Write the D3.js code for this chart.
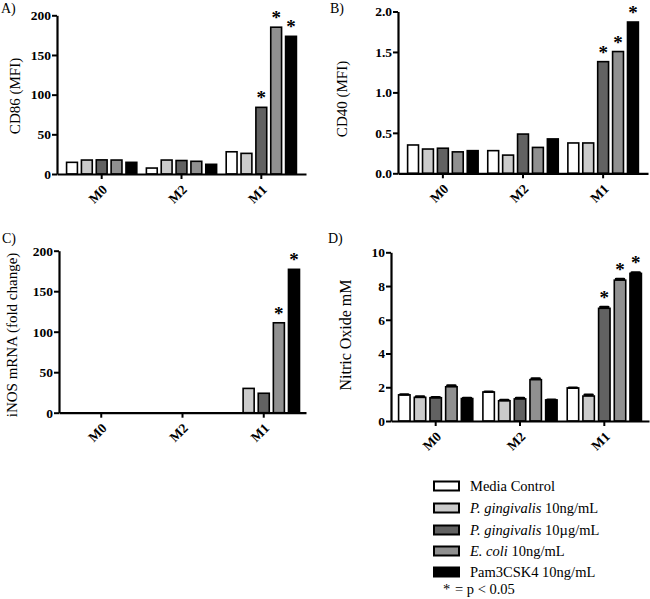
<!DOCTYPE html>
<html>
<head>
<meta charset="utf-8">
<script src="https://cdn.jsdelivr.net/npm/d3@7"></script>
<style>
html,body{margin:0;padding:0;background:#fff;}
svg{display:block;}
text{font-family:"Liberation Serif","Times New Roman",serif;}
</style>
</head>
<body>
<svg id="chart" width="650" height="599"></svg>
<script>
// ---- data ----
const categories = ["M0", "M2", "M1"];
const seriesNames = ["Media Control", "P. gingivalis 10ng/mL", "P. gingivalis 10µg/mL", "E. coli 10ng/mL", "Pam3CSK4 10ng/mL"];
const seriesColors = ["#ffffff", "#cbcbcb", "#626262", "#909090", "#000000"];

// rows = categories (M0, M2, M1), columns = series
const cd86Values = [[14.7, 17.6, 17.8, 17.6, 14.7], [7.5, 17.6, 17, 16, 12.2], [28, 26, 84, 185, 173.5]];
const cd86Sig = [[0,0,0,0,0],[0,0,0,0,0],[0,0,1,1,1]];
const cd40Values = [[0.35, 0.30, 0.31, 0.265, 0.28], [0.28, 0.225, 0.485, 0.32, 0.425], [0.375, 0.375, 1.38, 1.505, 1.87]];
const cd40Sig = [[0,0,0,0,0],[0,0,0,0,0],[0,0,1,1,1]];
const inosValues = [[0, 0, 0, 0, 0], [0, 0, 0, 0, 0], [0, 30, 24, 111, 177]];
const inosSig = [[0,0,0,0,0],[0,0,0,0,0],[0,0,0,1,1]];
const noValues = [[1.55, 1.40, 1.38, 2.03, 1.33], [1.72, 1.20, 1.31, 2.45, 1.25], [1.96, 1.48, 6.68, 8.35, 8.75]];
const noErr = [[0.03, 0.06, 0.04, 0.09, 0.05], [0.03, 0.06, 0.07, 0.09, 0.03], [0.03, 0.09, 0.09, 0.08, 0.07]];
const noSig = [[0,0,0,0,0],[0,0,0,0,0],[0,0,1,1,1]];

const cd86Ticks = [0, 50, 100, 150, 200];
const cd40Ticks = [0, 0.5, 1.0, 1.5, 2.0];
const inosTicks = [0, 50, 100, 150, 200];
const noTicks = [0, 2, 4, 6, 8, 10];

const svg = d3.select("#chart");

function panel(opt) {
  const g = svg.append("g");
  const y = d3.scaleLinear().domain(opt.domain).range([opt.y0, opt.y1]);
  const xg = d3.scaleBand().domain(categories).range([opt.x0, opt.x1]).paddingInner(0).paddingOuter(opt.po);
  const half = xg.bandwidth() * 0.44;
  const xs = d3.scaleBand().domain(d3.range(seriesNames.length)).range([-half, half]).paddingInner(0.27).paddingOuter(0);

  // bars
  categories.forEach((c, ci) => {
    const cx = xg(c) + xg.bandwidth() / 2;
    opt.values[ci].forEach((v, si) => {
      if (v <= 0) return;
      g.append("rect")
        .attr("x", cx + xs(si))
        .attr("y", y(v))
        .attr("width", xs.bandwidth())
        .attr("height", y(0) - y(v))
        .attr("fill", seriesColors[si])
        .attr("stroke", "#000")
        .attr("stroke-width", 1.6);
      let top = y(v);
      if (opt.err) {
        const e = opt.err[ci][si];
        const bx = cx + xs(si) + xs.bandwidth() / 2;
        g.append("line").attr("x1", bx).attr("x2", bx).attr("y1", y(v + e)).attr("y2", y(v))
          .attr("stroke", "#000").attr("stroke-width", 2);
        g.append("rect")
          .attr("x", cx + xs(si) + 0.5).attr("width", xs.bandwidth() - 1)
          .attr("y", y(v + e) - 1).attr("height", Math.max(2.5, y(v) - y(v + e) + 1))
          .attr("rx", 1.5).attr("fill", "#000");
        top = y(v + e);
      }
      if (opt.sig[ci][si]) {
        g.append("text")
          .attr("x", cx + xs(si) + xs.bandwidth() / 2)
          .attr("y", top - 3)
          .attr("text-anchor", "middle")
          .style("font-size", "19px")
          .style("font-weight", "bold")
          .text("*");
      }
    });
  });

  // y axis
  const ya = g.append("g").attr("transform", `translate(${opt.x0},0)`)
    .call(d3.axisLeft(y).tickValues(opt.ticks).tickFormat(opt.fmt).tickSize(5).tickSizeOuter(0));
  // x axis
  const xa = g.append("g").attr("transform", `translate(0,${opt.y0})`)
    .call(d3.axisBottom(xg).tickSize(5).tickSizeOuter(0));
  [ya, xa].forEach(a => {
    a.select(".domain").attr("stroke-width", 2.2);
    a.selectAll(".tick line").attr("stroke-width", 2);
  });
  ya.selectAll("text").style("font-size", "13.5px").style("font-weight", "bold")
    .style("font-family", '"Liberation Serif","Times New Roman",serif').attr("x", -6);
  xa.selectAll("text").remove();
  categories.forEach(c => {
    const cx = xg(c) + xg.bandwidth() / 2;
    g.append("text")
      .attr("transform", `translate(${cx + 3},${opt.y0 + 13}) rotate(-45)`)
      .attr("text-anchor", "end")
      .attr("dy", "0.35em")
      .style("font-size", "13.5px")
      .style("font-weight", "bold")
      .text(c);
  });
  // y label
  g.append("text")
    .attr("transform", `translate(${opt.lx},${opt.ly}) rotate(-90)`)
    .attr("text-anchor", "middle")
    .attr("dy", "0.35em")
    .style("font-size", opt.lsize)
    .text(opt.label);
  // panel letter
  g.append("text").attr("x", opt.px).attr("y", opt.py)
    .style("font-size", "14px").text(opt.letter);
}

panel({letter: "A)", px: 1, py: 13, label: "CD86 (MFI)", lx: 15, ly: 96, lsize: "15px",
  x0: 57, x1: 306, y0: 174, y1: 15.3, domain: [0, 200], ticks: cd86Ticks, fmt: d3.format("d"), po: 0.06,
  values: cd86Values, sig: cd86Sig});
panel({letter: "B)", px: 330, py: 13, label: "CD40 (MFI)", lx: 342, ly: 99, lsize: "15px",
  x0: 398, x1: 648, y0: 173.3, y1: 11.5, domain: [0, 2], ticks: cd40Ticks, fmt: d3.format(".1f"), po: 0.06,
  values: cd40Values, sig: cd40Sig});
panel({letter: "C)", px: 2, py: 243, label: "iNOS mRNA (fold change)", lx: 12, ly: 335, lsize: "15px",
  x0: 59, x1: 306, y0: 412.7, y1: 250.7, domain: [0, 200], ticks: inosTicks, fmt: d3.format("d"), po: 0.02,
  values: inosValues, sig: inosSig});
panel({letter: "D)", px: 328, py: 243, label: "Nitric Oxide mM", lx: 345, ly: 335, lsize: "16px",
  x0: 391, x1: 649, y0: 421, y1: 252.3, domain: [0, 10], ticks: noTicks, fmt: d3.format("d"), po: 0.03,
  values: noValues, err: noErr, sig: noSig});

// legend
const leg = svg.append("g");
const legY = [486, 508, 530, 551, 572];
seriesNames.forEach((s, i) => {
  leg.append("rect").attr("x", 434).attr("y", legY[i] - 4.5).attr("width", 25).attr("height", 9)
    .attr("fill", seriesColors[i]).attr("stroke", "#000").attr("stroke-width", 2);
  const t = leg.append("text").attr("x", 470).attr("y", legY[i]).attr("dy", "0.35em").style("font-size", "14.5px");
  const m = s.match(/^(P\. gingivalis|E\. coli)(.*)$/);
  if (m) {
    t.append("tspan").style("font-style", "italic").text(m[1]);
    t.append("tspan").text(m[2]);
  } else {
    t.text(s);
  }
});
const foot = leg.append("text").attr("x", 443).attr("y", 594).style("font-size", "14.5px");
foot.append("tspan").text("*");
foot.append("tspan").attr("x", 455).text("= p < 0.05");
</script>
</body>
</html>
